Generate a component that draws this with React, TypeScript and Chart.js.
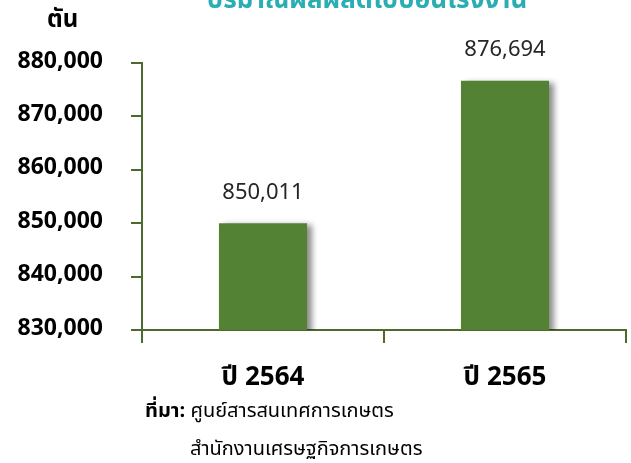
import React, { useEffect, useRef } from "react";
import { Chart, registerables } from "chart.js";

Chart.register(...registerables);

const categories = ["ปี 2564", "ปี 2565"];
const values = [850011, 876694];
const yMin = 830000;
const yMax = 880000;
const yStep = 10000;
const titleText = "ปริมาณผลผลิตไปป้อนโรงงาน";
const unitText = "ตัน";
const sourceLabel = "ที่มา:";
const sourceLines = ["ศูนย์สารสนเทศการเกษตร", "สำนักงานเศรษฐกิจการเกษตร"];

const FONT = "Tahoma, 'Noto Sans Thai', 'Leelawadee UI', 'Noto Sans', sans-serif";
const BAR = "#548235";
const AXIS = "#4b6a2c";

const fmt = (v: number) => v.toLocaleString("en-US");

const extras = {
  id: "extras",
  beforeDatasetsDraw(chart: any) {
    const ctx = chart.ctx;
    ctx.save();
    ctx.shadowColor = "rgba(0,0,0,0.45)";
    ctx.shadowOffsetX = 5;
    ctx.shadowOffsetY = 2;
    ctx.shadowBlur = 6;
  },
  afterDatasetsDraw(chart: any) {
    const ctx = chart.ctx;
    ctx.restore();
    const meta = chart.getDatasetMeta(0);
    ctx.save();
    ctx.fillStyle = "#262626";
    ctx.font = `22px ${FONT}`;
    ctx.textAlign = "center";
    ctx.textBaseline = "middle";
    meta.data.forEach((el: any, i: number) => {
      ctx.fillText(fmt(values[i]), el.x, el.y - 29);
    });
    ctx.restore();
  },
  afterDraw(chart: any) {
    const ctx = chart.ctx;
    ctx.save();
    // cut-off title
    ctx.fillStyle = "#2aaeb3";
    ctx.font = `bold 26px ${FONT}`;
    ctx.textAlign = "center";
    ctx.textBaseline = "alphabetic";
    ctx.fillText(titleText, 367, 8);
    // unit
    ctx.fillStyle = "#000";
    ctx.font = `bold 24px ${FONT}`;
    ctx.textAlign = "left";
    ctx.textBaseline = "middle";
    ctx.fillText(unitText, 47, 22);
    // source
    ctx.font = `bold 20px ${FONT}`;
    ctx.fillText(sourceLabel, 145, 413);
    const w = ctx.measureText(sourceLabel + " ").width;
    ctx.font = `20px ${FONT}`;
    ctx.fillText(sourceLines[0], 145 + w, 413);
    ctx.fillText(sourceLines[1], 190, 451);
    ctx.restore();
  },
};

export default function App() {
  const ref = useRef<HTMLCanvasElement>(null);
  useEffect(() => {
    if (!ref.current) return;
    const chart = new Chart(ref.current, {
      type: "bar",
      data: {
        labels: categories,
        datasets: [
          {
            data: values,
            backgroundColor: BAR,
            borderWidth: 0,
            barPercentage: 0.364,
            categoryPercentage: 1,
          },
        ],
      },
      options: {
        responsive: false,
        animation: false,
        layout: { padding: { top: 63, right: 5, left: 0, bottom: 0 } },
        plugins: {
          legend: { display: false },
          tooltip: { enabled: false },
          title: { display: false },
        },
        scales: {
          x: {
            grid: {
              display: true,
              drawOnChartArea: false,
              drawTicks: true,
              tickLength: 13,
              color: AXIS,
              lineWidth: 2,
              offset: true,
            },
            border: { display: true, color: AXIS, width: 2 },
            ticks: {
              color: "#000",
              font: { family: FONT, size: 26, weight: "bold" },
              padding: 21,
            },
            afterFit(scale: any) {
              scale.height = 133;
            },
          },
          y: {
            min: yMin,
            max: yMax,
            grid: {
              display: true,
              drawOnChartArea: false,
              drawTicks: true,
              tickLength: 11,
              color: AXIS,
              lineWidth: 2,
            },
            border: { display: true, color: AXIS, width: 2 },
            ticks: {
              stepSize: yStep,
              color: "#000",
              font: { family: FONT, size: 23, weight: "bold" },
              padding: 28,
              callback: (v: any) => fmt(Number(v)),
            },
            afterFit(scale: any) {
              scale.width = 142;
            },
          },
        },
      },
      plugins: [extras],
    });
    return () => chart.destroy();
  }, []);
  return (
    <div style={{ position: "fixed", left: 0, top: 0, width: 631, height: 463, background: "#fff" }}>
      <canvas ref={ref} width={631} height={463} />
    </div>
  );
}
